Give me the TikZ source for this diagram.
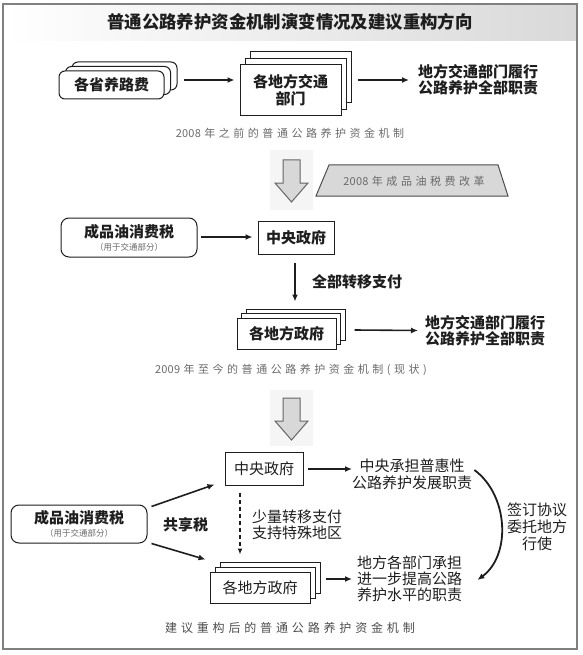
\documentclass[tikz,border=0pt]{standalone}
\usepackage{fontspec}
\setmainfont{Noto Sans CJK SC}
\newfontfamily\capfont[LetterSpace=32]{Noto Sans CJK SC}
\newfontfamily\capnumfont[LetterSpace=2]{Noto Sans CJK SC}
\newcommand{\capnum}[1]{{\capnumfont #1}\hspace{3.5pt}}
\usetikzlibrary{shadows,arrows.meta}
\definecolor{framec}{HTML}{808080}
\definecolor{ink}{HTML}{1E1E1E}
\definecolor{capgray}{HTML}{6A6A6A}
\definecolor{arrowfill}{HTML}{D8D8D8}
\tikzset{
  box/.style={draw=ink, line width=1pt, fill=white, inner sep=0pt, align=center, text=ink},
  rbox/.style={box, rounded corners=6pt},
  shad/.style 2 args={copy shadow={shadow xshift=#1, shadow yshift=#2, draw=ink, fill=white, line width=1pt}},
  bfont/.style={font=\bfseries\fontsize{15}{17}\selectfont, text=ink},
  rfont/.style={font=\fontsize{15}{17}\selectfont, text=ink},
  subfont/.style={font=\fontsize{8.5}{10}\selectfont, text=capgray, inner sep=0pt},
  capstyle/.style={font=\capfont\fontsize{11}{13}\selectfont, text=capgray, inner sep=0pt},
  txt/.style={inner sep=0pt, align=center},
  arr/.style={draw=ink, line width=1.6pt, -{Latex[length=7pt,width=6pt]}},
  blockarrow/.style={draw=black!60, fill=arrowfill, line width=1pt, line join=miter},
}
\begin{document}
\begin{tikzpicture}[x=1pt,y=-1pt]
\useasboundingbox (0,0) rectangle (582,655);
% frame and title band
\shade[left color=white, right color=black!15] (3,4) rectangle (577,41);
\draw[draw=framec, line width=1.5pt] (3,4) rectangle (577,649);
\node[txt, font=\bfseries\fontsize{17.4}{20}\selectfont, text=ink] (title) at (290,22) {普通公路养护资金机制演变情况及建议重构方向};

% ---------- section 1 ----------
\node[rbox, shad={13pt}{9pt}, shad={6.5pt}{4.5pt}, minimum width=105pt, minimum height=28pt, bfont] (n1) at (111.5,85) {各省养路费};
\node[box, shad={10pt}{13pt}, shad={5pt}{6.5pt}, minimum width=101pt, minimum height=51pt, bfont] (n2) at (290.5,90.5) {各地方交通\\部门};
\node[txt, anchor=west, font=\bfseries\fontsize{15}{16}\selectfont, text=ink] (t1) at (418,80) {地方交通部门履行\\公路养护全部职责};
\draw[arr] ([xshift=19pt,yshift=5pt]n1.east) -- ([xshift=-5pt,yshift=10.5pt]n2.west);
\draw[arr] ([xshift=16pt,yshift=10.5pt]n2.east) -- ([xshift=-9pt]t1.west);
\node[capstyle] (cap1) at (290,133) {\capnum{2008}年之前的普通公路养护资金机制};

% big arrow 1 and reform label
\fill[black!4] (270,150) rectangle (313,210);
\draw[blockarrow] (283,160) -- (300,160) -- (300,183) -- (308,183) -- (291.5,202) -- (275,183) -- (283,183) -- cycle;
\draw[draw=black!70, fill=arrowfill, line width=1pt] (329,165) -- (498,165) -- (508,196) -- (316,196) -- cycle;
\node[capstyle] (reform) at (414,181) {\capnum{2008}年成品油税费改革};

% ---------- section 2 ----------
\node[rbox, rounded corners=8pt, minimum width=136pt, minimum height=39pt] (b1) at (129,237.5) {};
\node[txt, bfont] (b1t) at (129,232) {成品油消费税};
\node[subfont] (b1s) at (129,247) {（用于交通部分）};
\node[box, minimum width=76pt, minimum height=33pt, bfont] (b2) at (296,237.5) {中央政府};
\draw[arr] ([xshift=3pt,yshift=0.5pt]b1.east) -- ([xshift=-5pt,yshift=0.5pt]b2.west);
\node[box, shad={9pt}{9pt}, shad={4.5pt}{4.5pt}, minimum width=99pt, minimum height=31pt, bfont] (b3) at (286.5,333.5) {各地方政府};
\draw[arr] ([xshift=-1pt,yshift=-8pt]b2.south) -- ([xshift=8.5pt,yshift=16pt]b3.north);
\node[txt, anchor=west, bfont] (lab1) at (312,282) {全部转移支付};
\node[txt, anchor=west, font=\bfseries\fontsize{15}{15.5}\selectfont, text=ink] (t2) at (425,330.5) {地方交通部门履行\\公路养护全部职责};
\draw[arr] ([xshift=18pt,yshift=3.5pt]b3.east) -- ([xshift=-7pt]t2.west);
\node[capstyle] (cap2) at (291,370) {\capnum{2009}年至今的普通公路养护资金机制(现状)};

% big arrow 2
\fill[black!4] (270,390) rectangle (313,446);
\draw[blockarrow] (283,398) -- (300,398) -- (300,421) -- (308,421) -- (291.5,440) -- (275,421) -- (283,421) -- cycle;

% ---------- section 3 ----------
\node[box, minimum width=78pt, minimum height=33pt, rfont] (c2) at (264,468.5) {中央政府};
\node[rbox, rounded corners=8pt, minimum width=136pt, minimum height=38pt] (c1) at (79,524) {};
\node[txt, bfont] (c1t) at (79,518) {成品油消费税};
\node[subfont] (c1s) at (79,533) {（用于交通部分）};
\node[box, shad={10pt}{10pt}, shad={5pt}{5pt}, minimum width=100pt, minimum height=31pt, rfont] (c3) at (260,587.5) {各地方政府};
\draw[arr] ([xshift=4pt,yshift=-2pt]c1.north east) -- ([xshift=-10pt,yshift=1pt]c2.south west);
\draw[arr] ([xshift=4pt]c1.south east) -- ([xshift=-4pt,yshift=12pt]c3.north west);
\node[txt, bfont] (share) at (185.5,525) {共享税};
\draw[arr, line width=1.4pt, dash pattern=on 4pt off 3pt, -{Latex[length=6pt,width=5pt]}] ([xshift=-24pt,yshift=-7pt]c2.south) -- ([xshift=-20pt,yshift=17pt]c3.north);
\node[txt, anchor=west, align=left, font=\fontsize{15}{16}\selectfont, text=ink] (lab2) at (252,525) {少量转移支付\\支持特殊地区};
\node[txt, anchor=west, font=\fontsize{15}{17}\selectfont, text=ink] (r1) at (352,474.5) {中央承担普惠性\\公路养护发展职责};
\node[txt, anchor=west, font=\fontsize{15}{16}\selectfont, text=ink] (r2) at (357,579) {地方各部门承担\\进一步提高公路\\养护水平的职责};
\draw[arr] ([xshift=4pt,yshift=-0.5pt]c2.east) -- ([yshift=5.5pt]r1.west);
\draw[arr] ([xshift=15pt,yshift=8.5pt]c3.east) -- ([xshift=-5pt]r2.west);
\draw[arr, line width=1.8pt] ([xshift=2pt,yshift=4.5pt]r1.east) .. controls +(34,25) and +(34,-25) .. ([xshift=15pt,yshift=-1pt]r2.east);
\node[txt, font=\fontsize{15}{17}\selectfont, text=ink] (sign) at (537,527) {签订协议\\委托地方\\行使};
\node[txt, font=\capfont\fontsize{12}{14}\selectfont, text=black!70] (cap3) at (290,628) {建议重构后的普通公路养护资金机制};
\end{tikzpicture}
\end{document}
